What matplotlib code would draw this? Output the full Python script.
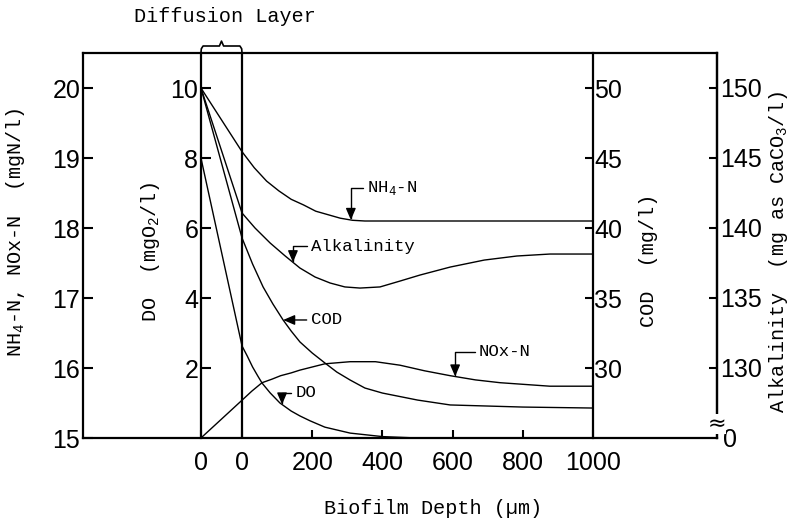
import numpy as np
import matplotlib.pyplot as plt

# values
# bulk liquid values (outer edge of the diffusion layer)
nh4_bulk = 20.0
nox_bulk = 15.0
do_bulk = 8.0
cod_bulk = 50.0
alk_bulk = 150.0

# biofilm profiles, depth in um
nh4_depth = [0, 35, 70, 105, 140, 175, 210, 245, 280, 315, 350, 500, 700, 1000]
nh4 = [19.09, 18.86, 18.67, 18.53, 18.41, 18.33, 18.24, 18.19, 18.14, 18.11, 18.10, 18.10, 18.10, 18.10]

nox_depth = [0, 28, 57, 85, 110, 140, 165, 236, 308, 380, 450, 520, 593, 665, 735, 877, 1000]
nox = [15.54, 15.67, 15.79, 15.84, 15.89, 15.93, 15.97, 16.06, 16.09, 16.09, 16.04, 15.96,
       15.89, 15.83, 15.79, 15.74, 15.74]

do_depth = [0, 15, 30, 45, 57, 80, 108, 140, 165, 194, 236, 308, 400, 500, 650]
do = [2.63, 2.34, 2.03, 1.77, 1.57, 1.29, 1.00, 0.77, 0.63, 0.49, 0.31, 0.14, 0.04, 0.0, 0.0]

cod_depth = [0, 30, 60, 88, 117, 140, 165, 200, 236, 270, 308, 350, 400, 500, 593, 800, 1000]
cod = [39.29, 37.43, 35.79, 34.57, 33.43, 32.64, 31.86, 31.07, 30.36, 29.71, 29.14, 28.57,
       28.21, 27.71, 27.36, 27.21, 27.14]

alk_depth = [0, 37, 80, 123, 165, 208, 251, 293, 336, 393, 450, 507, 593, 690, 783, 877, 1000]
alk = [141.07, 140.0, 138.93, 138.0, 137.14, 136.5, 136.07, 135.79, 135.71, 135.79, 136.21,
       136.64, 137.21, 137.71, 138.0, 138.14, 138.14]

x_ticks = [200, 400, 600, 800, 1000]
nh4_ticks = [15, 16, 17, 18, 19, 20]
do_ticks = [2, 4, 6, 8, 10]
cod_ticks = [30, 35, 40, 45, 50]
alk_ticks = [130, 135, 140, 145, 150]

DL = 117  # drawn width of the diffusion layer on the depth axis

mono = 'Liberation Mono'
num = ['Liberation Sans', 'DejaVu Sans']
nsize = 18

W, H = 797, 519
fig = plt.figure(figsize=(W / 100, H / 100), dpi=100)
ax = fig.add_axes([83 / W, 1 - 438 / H, (717 - 83) / W, (438 - 53) / H])
ax.set_xlim(-453, 1353)
ax.set_ylim(15, 20.5)
for s in ax.spines.values():
    s.set_linewidth(1.6)
ax.axvline(0, color='black', lw=1.6)

ax_do = ax.twinx()
ax_do.set_ylim(0, 11)
ax_cod = ax.twinx()
ax_cod.set_ylim(25, 52.5)
ax_alk = ax.twinx()
ax_alk.set_ylim(125, 152.5)

# main axis: NH4-N / NOx-N
ax.set_yticks(nh4_ticks)
ax.set_yticklabels([str(t) for t in nh4_ticks], family=num, fontsize=nsize)
ax.set_xticks([-DL, 0] + x_ticks)
ax.set_xticklabels(['0', '0'] + [str(t) for t in x_ticks], family=num, fontsize=nsize)
ax.tick_params(axis='y', direction='in', length=7, width=1.5, pad=2)
ax.tick_params(axis='x', direction='in', length=6, width=1.5, pad=9)

# DO axis on the outer edge of the diffusion layer
ax_do.yaxis.set_ticks_position('left')
ax_do.spines['left'].set_position(('data', -DL))
ax_do.spines['left'].set_linewidth(1.6)
for s in ['top', 'bottom', 'right']:
    ax_do.spines[s].set_visible(False)
ax_do.set_yticks(do_ticks)
ax_do.set_yticklabels([str(t) for t in do_ticks], family=num, fontsize=nsize)
ax_do.tick_params(axis='y', direction='in', length=7, width=1.5, pad=2)

# COD axis at 1000 um
ax_cod.spines['right'].set_position(('data', 1000))
ax_cod.spines['right'].set_linewidth(1.6)
for s in ['top', 'bottom', 'left']:
    ax_cod.spines[s].set_visible(False)
ax_cod.set_yticks(cod_ticks)
ax_cod.set_yticklabels([str(t) for t in cod_ticks], family=num, fontsize=nsize)
ax_cod.tick_params(axis='y', direction='in', length=6, width=1.5, pad=1)

# alkalinity axis at the right edge
for s in ['top', 'bottom', 'left']:
    ax_alk.spines[s].set_visible(False)
ax_alk.spines['right'].set_linewidth(1.6)
ax_alk.set_yticks(alk_ticks)
ax_alk.set_yticklabels([str(t) for t in alk_ticks], family=num, fontsize=nsize)
ax_alk.set_yticks([125], labels=['0'], minor=True)
for lab in ax_alk.get_yticklabels(minor=True):
    lab.set_family(num)
    lab.set_fontsize(nsize)
ax_alk.tick_params(axis='y', which='major', direction='in', length=6, width=1.5, pad=2)
ax_alk.tick_params(axis='y', which='minor', length=0, pad=4)

# curves: bulk value at the outer edge, then the biofilm profile
lw = 1.0
ax.plot(np.r_[-DL, nh4_depth], np.r_[nh4_bulk, nh4], color='black', lw=lw)
ax.plot(np.r_[-DL, nox_depth], np.r_[nox_bulk, nox], color='black', lw=lw)
ax_do.plot(np.r_[-DL, do_depth], np.r_[do_bulk, do], color='black', lw=lw)
ax_cod.plot(np.r_[-DL, cod_depth], np.r_[cod_bulk, cod], color='black', lw=lw)
ax_alk.plot(np.r_[-DL, alk_depth], np.r_[alk_bulk, alk], color='black', lw=lw)

# curve labels with arrows
arrow = dict(arrowstyle='-|>,head_length=0.7,head_width=0.3', color='black', lw=1.0,
             shrinkA=1, shrinkB=0, mutation_scale=10)
bent = dict(arrow, connectionstyle='angle,angleA=0,angleB=90,rad=0')
lab_kw = dict(family=mono, fontsize=12.5, ha='left', va='center')

x = 310
ax.annotate('NH$_\\mathregular{4}$-N', xy=(x, np.interp(x, nh4_depth, nh4)),
            xytext=(356, 18.57), arrowprops=bent, **lab_kw)
x = 145
ax_alk.annotate('Alkalinity', xy=(x, np.interp(x, alk_depth, alk)),
                xytext=(196, 138.71), arrowprops=bent, **lab_kw)
x = 117
y = np.interp(x, cod_depth, cod)
ax_cod.annotate('COD', xy=(x, y), xytext=(196, y), arrowprops=arrow, **lab_kw)
x = 114
ax_do.annotate('DO', xy=(x, np.interp(x, do_depth, do)),
               xytext=(152, 1.29), arrowprops=bent, **lab_kw)
x = 607
ax.annotate('NOx-N', xy=(x, np.interp(x, nox_depth, nox)),
            xytext=(675, 16.23), arrowprops=bent, **lab_kw)

# brace over the diffusion layer
bx = np.array([-DL, -DL + 1, -DL + 6, -DL / 2 - 6, -DL / 2, -DL / 2 + 6, -6, -1, 0])
by = np.array([20.5, 20.56, 20.6, 20.6, 20.67, 20.6, 20.6, 20.56, 20.5])
ax.plot(bx, by, color='black', lw=1.2, clip_on=False)

# axis break mark on the alkalinity axis
fig.text(717 / W, 1 - 424 / H, '\u2248', fontsize=16, ha='center', va='center',
         bbox=dict(fc='white', ec='none', pad=0))

# axis titles
tkw = dict(family=mono, fontsize=14.5, ha='center', va='center')
fig.text(225 / W, 1 - 17 / H, 'Diffusion Layer', **tkw)
fig.text(433 / W, 1 - 508 / H, 'Biofilm Depth (\u00b5m)', **tkw)
fig.text(16 / W, 1 - 232 / H, 'NH$_\\mathregular{4}$-N, NOx-N  (mgN/l)', rotation=90, **tkw)
fig.text(150 / W, 1 - 252 / H, 'DO  (mgO$_\\mathregular{2}$/l)', rotation=90, **tkw)
fig.text(648 / W, 1 - 260 / H, 'COD  (mg/l)', rotation=90, **tkw)
fig.text(779 / W, 1 - 252 / H, 'Alkalinity  (mg as CaCO$_\\mathregular{3}$/l)', rotation=90, **tkw)

fig.savefig('out.png', dpi=100)
